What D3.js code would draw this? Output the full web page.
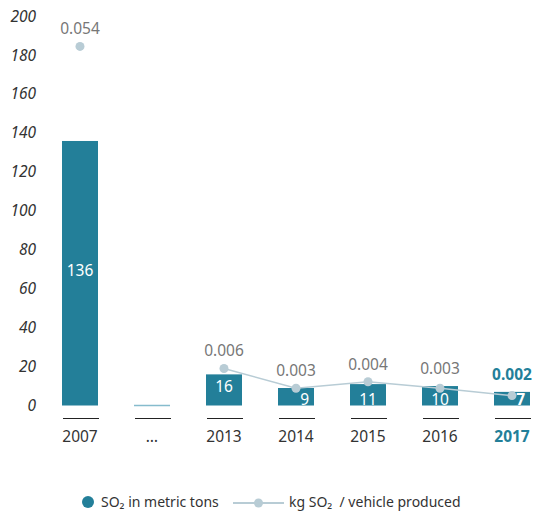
<!DOCTYPE html>
<html>
<head>
<meta charset="utf-8">
<script src="https://cdn.jsdelivr.net/npm/d3@7"></script>
<style>
  html, body { margin: 0; padding: 0; background: #fff; }
  svg { display: block; font-family: "Noto Sans", "Open Sans", sans-serif; }
</style>
</head>
<body>
<svg id="chart" width="535" height="513"></svg>
<script>
// ---- data ----
const categories = ["2007", "…", "2013", "2014", "2015", "2016", "2017"];
const so2Tons = [136, null, 16, 9, 11, 10, 7];
const kgPerVehicle = [0.0543, null, 0.0056, 0.0026, 0.0036, 0.0026, 0.0015];
const kgPerVehicleLabels = ["0.054", "", "0.006", "0.003", "0.004", "0.003", "0.002"];
const yTicks = [0, 20, 40, 60, 80, 100, 120, 140, 160, 180, 200];
const highlightCategory = "2017";
const legendLabels = ["SO₂ in metric tons", "kg SO₂  / vehicle produced"];

// ---- styles ----
const teal = "#237f99";
const dotColor = "#b8ccd5";
const placeholderColor = "#86bccd";
const textDark = "#333";
const labelGrey = "#777";

const svg = d3.select("#chart");

const x = d3.scaleBand().domain(categories).range([44, 548]).paddingInner(0.5).paddingOuter(0.25);
const y = d3.scaleLinear().domain([0, 200]).range([405.5, 16.5]);
const y2 = d3.scaleLinear().domain([0, 200 / 3400]).range([405.5, 16.5]);

const rows = categories.map((c, i) => ({ c, v: so2Tons[i], k: kgPerVehicle[i], kl: kgPerVehicleLabels[i] }));

// y axis labels (italic, no line)
const yAxis = d3.axisLeft(y).tickValues(yTicks).tickSize(0).tickPadding(0);
const yg = svg.append("g").attr("transform", "translate(36,0)").call(yAxis);
yg.select(".domain").remove();
yg.selectAll("text")
  .attr("font-family", "'Noto Sans', sans-serif")
  .attr("font-size", 15.5).attr("font-style", "italic").attr("fill", textDark).attr("dy", "0.3em");

// bars
svg.append("g").selectAll("rect")
  .data(rows.filter(d => d.v != null))
  .join("rect")
  .attr("x", d => x(d.c)).attr("width", x.bandwidth())
  .attr("y", d => y(d.v)).attr("height", d => y(0) - y(d.v))
  .attr("fill", teal);

// placeholder for "…"
svg.append("g").selectAll("line")
  .data(rows.filter(d => d.v == null))
  .join("line")
  .attr("x1", d => x(d.c)).attr("x2", d => x(d.c) + x.bandwidth())
  .attr("y1", y(0)).attr("y2", y(0))
  .attr("stroke", placeholderColor).attr("stroke-width", 1.5);

// underlines (x axis ticks)
svg.append("g").selectAll("line")
  .data(rows)
  .join("line")
  .attr("x1", d => x(d.c) + 1).attr("x2", d => x(d.c) + x.bandwidth() + 1)
  .attr("y1", 418.5).attr("y2", 418.5)
  .attr("stroke", "#222").attr("stroke-width", 1.2);

// category labels
svg.append("g").selectAll("text")
  .data(rows)
  .join("text")
  .attr("x", d => x(d.c) + x.bandwidth() / 2)
  .attr("y", 437).attr("dy", "0.35em")
  .attr("text-anchor", "middle")
  .attr("font-size", 15.5)
  .attr("font-weight", d => d.c === highlightCategory ? "bold" : "normal")
  .attr("fill", d => d.c === highlightCategory ? teal : textDark)
  .text(d => d.c);

// line (kg / vehicle)
const line = d3.line()
  .defined(d => d.k != null)
  .x(d => x(d.c) + x.bandwidth() / 2)
  .y(d => y2(d.k));
svg.append("path").datum(rows)
  .attr("d", line).attr("fill", "none")
  .attr("stroke", dotColor).attr("stroke-width", 1.5);

// bar value labels
svg.append("g").selectAll("text")
  .data(rows.filter(d => d.v != null))
  .join("text")
  .attr("x", d => d.v < 10 ? x(d.c) + x.bandwidth() - 5 : x(d.c) + x.bandwidth() / 2)
  .attr("y", d => (y(0) - y(d.v)) > 30 ? (y(0) + y(d.v)) / 2 - 3 : y(0) - 6)
  .attr("dy", "0.35em")
  .attr("text-anchor", d => d.v < 10 ? "end" : "middle")
  .attr("font-size", 15.5)
  .attr("font-weight", d => d.c === highlightCategory ? "bold" : "normal")
  .attr("fill", "#fff")
  .text(d => d.v);

// dots
svg.append("g").selectAll("circle")
  .data(rows.filter(d => d.k != null))
  .join("circle")
  .attr("cx", d => x(d.c) + x.bandwidth() / 2)
  .attr("cy", d => y2(d.k))
  .attr("r", 4.5)
  .attr("fill", dotColor);

// dot labels
svg.append("g").selectAll("text")
  .data(rows.filter(d => d.k != null))
  .join("text")
  .attr("x", d => x(d.c) + x.bandwidth() / 2)
  .attr("y", d => Math.min(y2(d.k), y(d.v)) - 17.5)
  .attr("dy", "0.35em")
  .attr("text-anchor", "middle")
  .attr("font-size", 15.5)
  .attr("font-weight", d => d.c === highlightCategory ? "bold" : "normal")
  .attr("fill", d => d.c === highlightCategory ? teal : labelGrey)
  .text(d => d.kl);

// legend
const lg = svg.append("g");
lg.append("circle").attr("cx", 88).attr("cy", 502).attr("r", 6).attr("fill", teal);
lg.append("text").attr("x", 101).attr("y", 502).attr("dy", "0.35em")
  .attr("font-size", 14).attr("fill", textDark).text(legendLabels[0]);
lg.append("line").attr("x1", 233).attr("x2", 284).attr("y1", 503).attr("y2", 503)
  .attr("stroke", dotColor).attr("stroke-width", 2);
lg.append("circle").attr("cx", 258.5).attr("cy", 503).attr("r", 4.5).attr("fill", dotColor);
lg.append("text").attr("x", 289).attr("y", 502).attr("dy", "0.35em")
  .attr("font-size", 14).attr("fill", textDark).attr("xml:space", "preserve")
  .style("white-space", "pre").text(legendLabels[1]);
</script>
</body>
</html>
